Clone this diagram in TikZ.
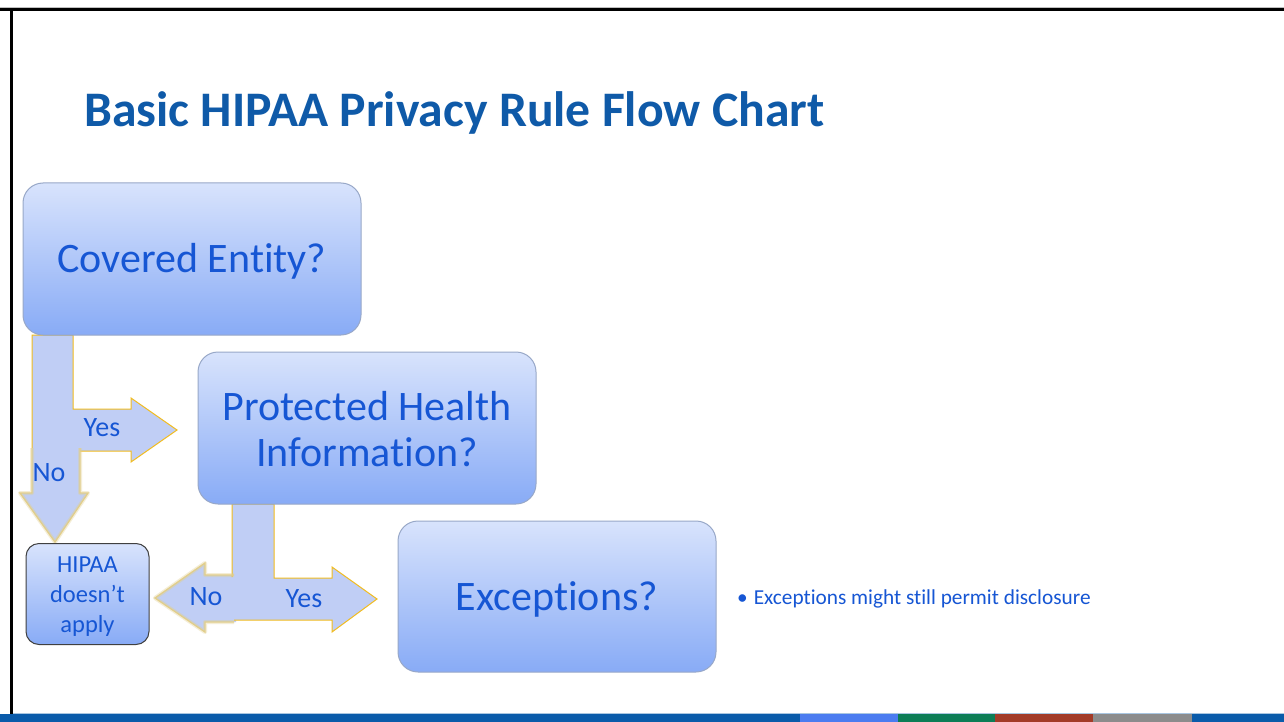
\documentclass[tikz,border=0pt]{standalone}
\usepackage{fontspec}
\setmainfont{Carlito}[Ligatures=CommonOff]
\definecolor{titleblue}{HTML}{0F5AA8}
\definecolor{textblue}{HTML}{1656D4}
\definecolor{boxtop}{HTML}{D8E3FC}
\definecolor{boxmid}{HTML}{B4C8F8}
\definecolor{boxbot}{HTML}{88ABF6}
\definecolor{boxedge}{HTML}{98A8C8}
\definecolor{arrowfill}{HTML}{C0CEF5}
\definecolor{arrowedge}{HTML}{F2BC1E}
\definecolor{glowedge}{HTML}{E2CE8A}
\definecolor{barblue}{HTML}{0A5BAA}
\definecolor{barlight}{HTML}{4B7CF0}
\definecolor{bargreen}{HTML}{0C7D56}
\definecolor{barred}{HTML}{A33B28}
\definecolor{bargray}{HTML}{8C8C8C}
\begin{document}
\begin{tikzpicture}[x=1pt,y=-1pt,
  qbox/.style={draw=boxedge, line width=1pt, rounded corners=20pt,
    shading=axis, top color=boxtop, middle color=boxmid, bottom color=boxbot,
    inner sep=0pt},
  endbox/.style={qbox, draw=black!75, rounded corners=13pt},
  qtext/.style={inner sep=0pt, text=textblue, align=center,
    font=\fontsize{42}{46}\selectfont},
  endtext/.style={qtext, font=\fontsize{24.5}{30}\selectfont},
  arrowbody/.style={fill=arrowfill, draw=none},
  yesedge/.style={draw=arrowedge, line width=1pt, line join=miter},
  noglow/.style={draw=glowedge, line width=4pt, opacity=0.35, line join=round},
  noedge/.style={draw=glowedge, line width=1.3pt, line join=miter},
  lbl/.style={text=textblue, inner sep=0pt, font=\fontsize{28}{30}\selectfont}
]
\useasboundingbox (0,0) rectangle (1284,722);
\fill[white] (0,0) rectangle (1284,722);

% slide frame
\fill[black!25] (0,7) rectangle (1284,8.5);
\fill[black] (0,8.5) rectangle (1284,11);
\fill[black] (10,8.5) rectangle (12.5,714);

% title
\node[anchor=base west, inner sep=0pt, text=titleblue,
  font=\fontsize{49.7}{56}\selectfont\bfseries] (title) at (84,127)
  {Basic HIPAA Privacy Rule Flow Chart};

% block arrows out of "Covered Entity?"
\path[arrowbody] (32,335) -- (73,335) -- (73,409) -- (131,409) -- (131,398)
  -- (177,430) -- (131,462) -- (131,451) -- (32,451) -- cycle;
\path[arrowbody] (32,446) -- (80,446) -- (80,493) -- (88,493) -- (55,542)
  -- (20,493) -- (32,493) -- cycle;
\draw[yesedge] (32,448) -- (32,335) -- (73,335) -- (73,409) -- (131,409)
  -- (131,398) -- (177,430) -- (131,462) -- (131,451) -- (80,451);
\draw[noglow] (80,448) -- (80,493) -- (88,493) -- (55,542) -- (20,493)
  -- (32,493) -- (32,448);
\draw[noedge] (80,448) -- (80,493) -- (88,493) -- (55,542) -- (20,493)
  -- (32,493) -- (32,448);

% block arrows out of "Protected Health Information?"
\path[arrowbody] (232,504) -- (274,504) -- (274,578) -- (332,578) -- (332,567)
  -- (377,599) -- (332,632) -- (332,620) -- (232,620) -- cycle;
\path[arrowbody] (236,575) -- (205,575) -- (205,563) -- (155,598) -- (205,632)
  -- (205,622) -- (236,622) -- cycle;
\draw[yesedge] (232,577) -- (232,504) -- (274,504) -- (274,578) -- (332,578)
  -- (332,567) -- (377,599) -- (332,632) -- (332,620) -- (234,620);
\draw[noglow] (234,575) -- (205,575) -- (205,563) -- (155,598) -- (205,632)
  -- (205,622) -- (234,622);
\draw[noedge] (234,575) -- (205,575) -- (205,563) -- (155,598) -- (205,632)
  -- (205,622) -- (234,622);

% decision boxes and their texts
\node[qbox, minimum width=338pt, minimum height=152pt] (covered) at (192,259) {};
\node[qtext] (coveredtext) at ([yshift=-2pt]covered.center) {Covered Entity?};
\node[qbox, minimum width=338pt, minimum height=152pt] (phi) at (367,428) {};
\node[qtext] (phitext) at ([yshift=-1pt]phi.center) {Protected Health\\Information?};
\node[qbox, minimum width=318pt, minimum height=151pt] (exc) at (557,596.5) {};
\node[qtext] (exctext) at ([yshift=-3pt]exc.center) {Exceptions?};
\node[endbox, minimum width=123pt, minimum height=101pt] (noapply) at (87.5,594) {};
\node[endtext] (noapplytext) at ([yshift=-3pt]noapply.center)
  {HIPAA\\doesn’t\\apply};

% arrow labels
\node[lbl] (yes1) at (102,428) {Yes};
\node[lbl] (no1) at (49,473) {No};
\node[lbl] (no2) at (206,597) {No};
\node[lbl] (yes2) at (304,599) {Yes};

% side note
\node[anchor=west, inner sep=0pt, text=textblue,
  font=\fontsize{21.3}{24}\selectfont] (note) at (737,599)
  {•\hspace{6pt}Exceptions might still permit disclosure};

% footer bar
\fill[barblue!35] (12.5,712.5) rectangle (1284,714);
\fill[barblue] (0,714) rectangle (1284,722);
\fill[barlight] (800,714) rectangle (898,722);
\fill[bargreen] (898,714) rectangle (995,722);
\fill[barred] (995,714) rectangle (1093,722);
\fill[bargray] (1093,714) rectangle (1192,722);
\end{tikzpicture}
\end{document}
